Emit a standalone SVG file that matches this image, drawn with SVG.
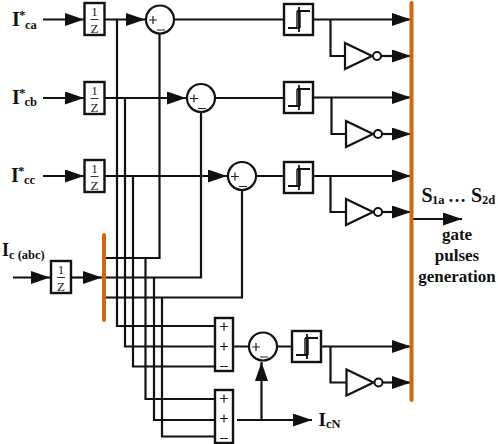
<svg xmlns="http://www.w3.org/2000/svg" width="498" height="444" viewBox="0 0 498 444">
<style>
.w{fill:none;stroke:#111;stroke-width:2.2}
.a{marker-end:url(#ah)}
.box{fill:#fff;stroke:#111;stroke-width:2.400}
.bus{fill:none;stroke:#d5660f;stroke-width:4;stroke-linecap:round}
.s{font-family:"Liberation Serif",serif;fill:#222}
.b{font-family:"Liberation Serif",serif;font-weight:bold;fill:#111}
.m{text-anchor:middle}
</style>
<defs>
<marker id="ah" markerUnits="userSpaceOnUse" markerWidth="20" markerHeight="14" refX="19" refY="6.500" orient="auto"><path d="M0 0L19 6.500L0 13Z" fill="#111"/></marker>
<g id="uz"><rect class="box" x="0" y="0" width="20" height="32"/><text class="s m" x="10" y="13" font-size="13">1</text><path d="M6 16.500H14" stroke="#333" stroke-width="1"/><text class="s m" x="10" y="29.500" font-size="13">Z</text></g>
<g id="hy"><rect class="box" x="0" y="0" width="29" height="31"/><rect x="12" y="7" width="5" height="17" fill="#555"/><path d="M4 24H16M13 7H26" fill="none" stroke="#111" stroke-width="1.800"/><path d="M15 3V28" stroke="#111" stroke-width="1.800"/></g>
<g id="nt"><path d="M0 0L27 13L0 26Z" fill="#fff" stroke="#111" stroke-width="2.200"/><circle cx="32" cy="13" r="4" fill="#fff" stroke="#111" stroke-width="2"/></g>
<g id="ci"><circle cx="0" cy="0" r="14" fill="#fff" stroke="#111" stroke-width="2.200"/><path d="M-11 0.500H-3M-7 -3.500V4.500M-3 10.500H5" stroke="#222" stroke-width="1.200"/></g>
<g id="sm"><rect class="box" x="0" y="0" width="18" height="53"/><path d="M5 8.500H13M9 4.500V12.500M5 28.500H13M9 24.500V32.500M5 48.500H13" stroke="#222" stroke-width="1.200" fill="none"/></g>
</defs>
<g id="connectors">
<path class="w a" d="M43 19.500H84"/><path class="w a" d="M43 98H84"/><path class="w a" d="M43 176H84"/><path class="w a" d="M13 277.500H50"/>
<path class="w a" d="M104 19.500H145"/><path class="w a" d="M104 98H186"/><path class="w a" d="M104 176H227"/><path class="w a" d="M71 277.500H102"/>
<path class="w" d="M174 19.500H284M215 98H284M256 176H284"/>
<path class="w" d="M117 19.500V326H215M125 98V346.500H215M133 176V366.500H215"/>
<path class="w" d="M159.500 33V258H105M201 112V277.500H105M242 190V297.500H105"/>
<path class="w" d="M145.500 258V399H215M154 277.500V420H215M162 297.500V436.500H215"/>
<path class="w" d="M233 346.500H249M277 346.500H292"/>
<path class="w a" d="M237 420H312"/><path class="w a" d="M261.500 420V362"/>
<path class="w a" d="M312 19.500H411"/><path class="w a" d="M312 97.500H411"/><path class="w a" d="M312 176H411"/><path class="w a" d="M321 346.500H411"/>
<path class="w" d="M330.500 19.500V56H345M331.500 97.500V134H346M330.500 176V212H346M330.500 346.500V382.500H346"/>
<path class="w a" d="M381 56H411"/><path class="w a" d="M382 134H411"/><path class="w a" d="M382 212H411"/><path class="w a" d="M383 382.500H411"/>
<path class="w a" d="M412 219H462"/>
</g>
<g id="bus-left"><path class="bus" d="M104 235V320"/></g>
<g id="bus-right"><path class="bus" d="M411.500 3V400"/></g>
<g id="z1"><use href="#uz" x="84.500" y="3"/></g>
<g id="z2"><use href="#uz" x="84.500" y="82"/></g>
<g id="z3"><use href="#uz" x="84.500" y="160"/></g>
<g id="z4"><use href="#uz" x="51" y="261"/></g>
<g id="sum1"><use href="#ci" x="160" y="19.500"/></g>
<g id="sum2"><use href="#ci" x="201" y="98"/></g>
<g id="sum3"><use href="#ci" x="242" y="176"/></g>
<g id="sum4"><use href="#ci" x="263" y="346.500"/></g>
<g id="h1"><use href="#hy" x="284" y="4"/></g>
<g id="h2"><use href="#hy" x="284" y="82"/></g>
<g id="h3"><use href="#hy" x="284" y="162"/></g>
<g id="h4"><use href="#hy" x="292" y="331"/></g>
<g id="n1"><use href="#nt" x="345" y="43"/></g>
<g id="n2"><use href="#nt" x="346" y="121"/></g>
<g id="n3"><use href="#nt" x="346" y="199"/></g>
<g id="n4"><use href="#nt" x="346.500" y="369.500"/></g>
<g id="add1"><use href="#sm" x="215" y="318"/></g>
<g id="add2"><use href="#sm" x="215" y="390"/></g>
<g id="labels">
<text class="b" x="12" y="26" font-size="20">I</text><text class="b" x="19" y="19" font-size="13">*</text><text class="b" x="25" y="29" font-size="12.500">ca</text>
<text class="b" x="12" y="104" font-size="20">I</text><text class="b" x="19" y="97" font-size="13">*</text><text class="b" x="24.500" y="106" font-size="12.500">cb</text>
<text class="b" x="11" y="182" font-size="20">I</text><text class="b" x="18" y="175" font-size="13">*</text><text class="b" x="24" y="184" font-size="12.500">cc</text>
<text class="b" x="2" y="256" font-size="18">I</text><text class="b" x="9" y="259" font-size="12.500">c (abc)</text>
<text class="b" x="318.500" y="426" font-size="19">I</text><text class="b" x="326" y="428" font-size="12.500">cN</text>
<text class="b" x="421.500" y="202" font-size="20">S</text><text class="b" x="432" y="204" font-size="12.500">1a</text><text class="b" x="448" y="202" font-size="18">…</text><text class="b" x="471" y="202" font-size="20">S</text><text class="b" x="482" y="204" font-size="12.500">2d</text>
<text class="b m" x="457" y="240" font-size="17">gate</text>
<text class="b m" x="457" y="261" font-size="17">pulses</text>
<text class="b m" x="457" y="282" font-size="17">generation</text>
</g>
</svg>
